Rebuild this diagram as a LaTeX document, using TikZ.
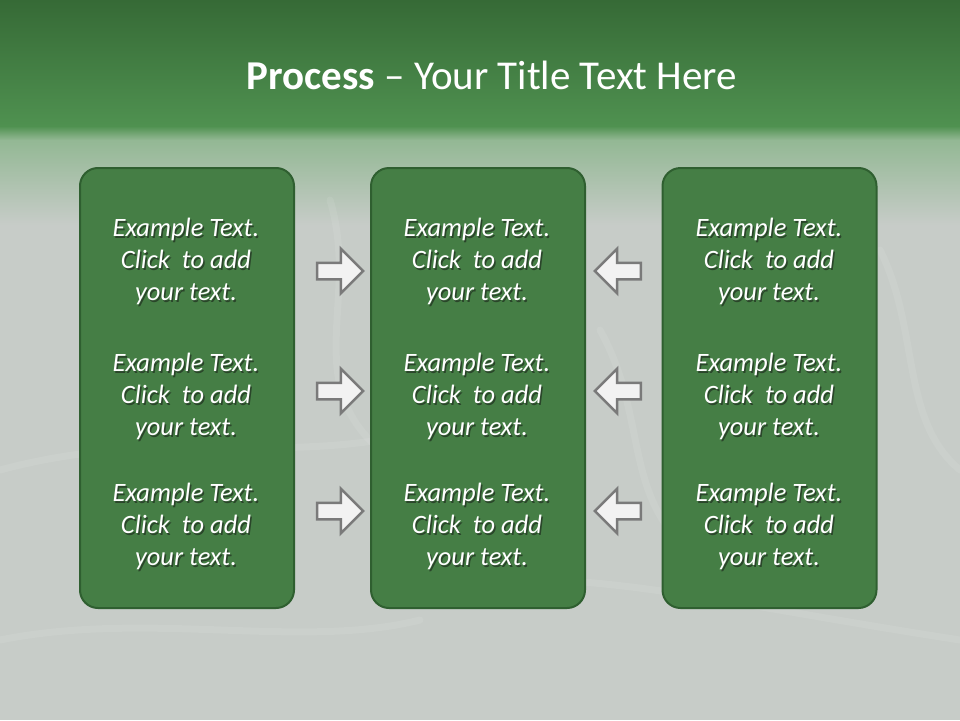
\documentclass[tikz,border=0pt]{standalone}
\usepackage{fontspec}
\setmainfont{Carlito}
\usetikzlibrary{shapes.arrows}
\definecolor{hdtop}{HTML}{366A36}
\definecolor{hdbot}{HTML}{4F9150}
\definecolor{fadeA}{HTML}{93B894}
\definecolor{bodyc}{HTML}{C7CCC8}
\definecolor{boxfill}{HTML}{457E45}
\definecolor{boxline}{HTML}{2F5F30}
\definecolor{arrfill}{HTML}{F2F2F2}
\definecolor{arrline}{HTML}{7A7A7A}
\definecolor{shadowc}{HTML}{2A452A}
\tikzset{
  box/.style={draw=boxline, line width=2pt, fill=boxfill, rounded corners=18pt,
    minimum width=214pt, minimum height=440pt, inner sep=0pt},
  rarrow/.style={single arrow, draw=arrline, fill=arrfill, line width=2.5pt,
    inner xsep=0pt, inner ysep=7pt, single arrow head extend=14pt,
    minimum height=46pt, single arrow tip angle=90},
  larrow/.style={rarrow, shape border rotate=180},
  txt/.style={text=white, font=\fontsize{26.5}{32}\selectfont\itshape, align=center, inner sep=0pt},
  swirl/.style={white, opacity=0.08, line width=7pt, line cap=round},
}
\newcommand{\shl}[1]{\leavevmode\rlap{\kern1.5pt\raisebox{-2pt}{\color{shadowc}#1}}#1}
\newcommand{\extext}{\shl{Example Text.}\\\shl{Click\ \ to add}\\\shl{your text.}}
\begin{document}
\begin{tikzpicture}[x=1pt,y=-1pt]
\useasboundingbox (0,0) rectangle (960,720);
% background
\fill[bodyc] (0,0) rectangle (960,720);
\shade[top color=hdtop, bottom color=hdbot] (0,0) rectangle (960,126);
\shade[top color=hdbot, bottom color=fadeA] (0,126) rectangle (960,140);
\shade[top color=fadeA, bottom color=bodyc] (0,140) rectangle (960,225);
% faint swirls
\draw[swirl] (330,200) .. controls (360,300) and (300,380) .. (380,450);
\draw[swirl] (0,470) .. controls (150,430) and (250,460) .. (380,440);
\draw[swirl] (600,330) .. controls (650,420) and (620,500) .. (700,560);
\draw[swirl] (880,250) .. controls (920,330) and (900,420) .. (960,470);
\draw[swirl] (420,590) .. controls (560,560) and (700,600) .. (960,640);
\draw[swirl] (0,640) .. controls (150,610) and (300,650) .. (420,620);
% title
\node[text=white, font=\fontsize{41}{48}\selectfont, inner sep=0pt] (title) at (492,75)
  {\textbf{Process} – Your Title Text Here};
% boxes
\node[box] (L) at (187,388) {};
\node[box] (M) at (478,388) {};
\node[box] (R) at (769.5,388) {};
% texts
\foreach \cx/\nm in {186/l,477/m,769/r}{
  \foreach \cy/\k in {262/1,397/2,527/3}{
    \node[txt] (t\nm\k) at (\cx,\cy) {\extext};
  }
}
% arrows
\node[rarrow] (ra1) at (336,271) {};
\node[rarrow] (ra2) at (336,391) {};
\node[rarrow] (ra3) at (336,511) {};
\node[larrow] (la1) at (622,271) {};
\node[larrow] (la2) at (622,391) {};
\node[larrow] (la3) at (622,511) {};
\end{tikzpicture}
\end{document}
